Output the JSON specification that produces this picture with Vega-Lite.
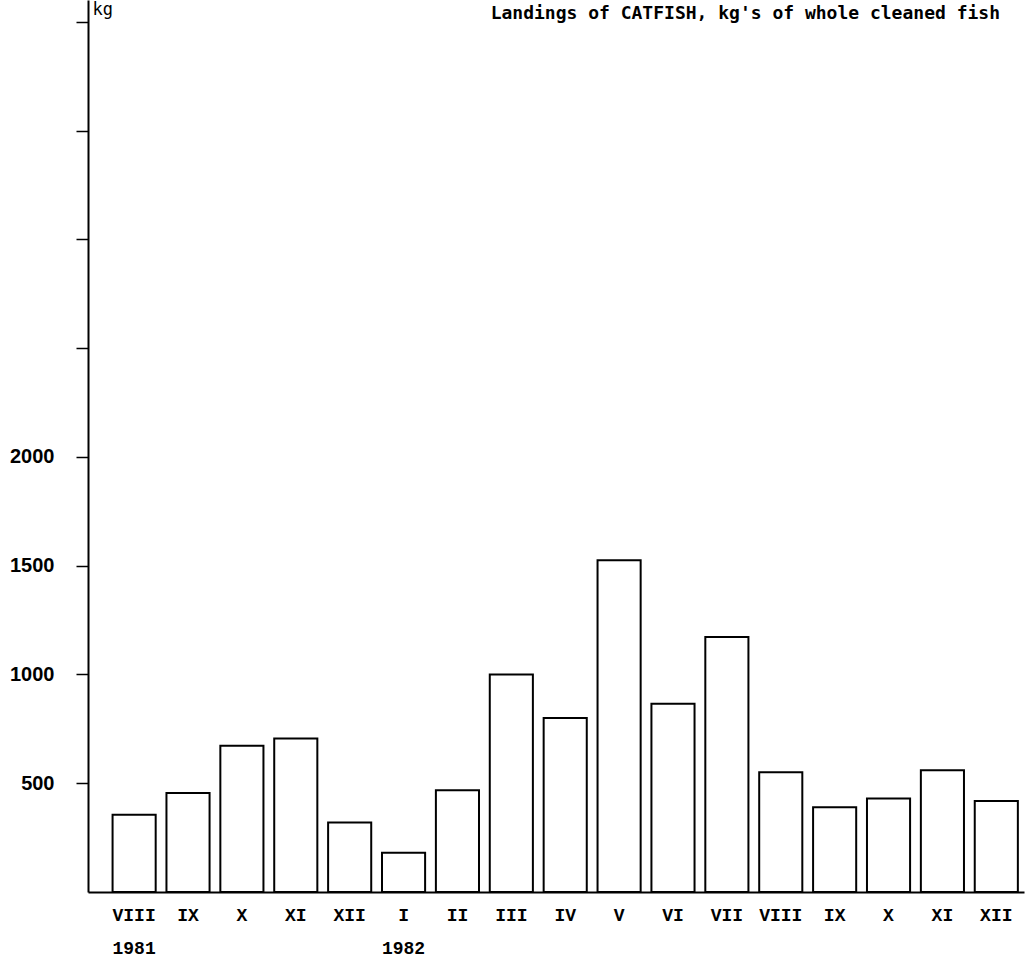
{
  "$schema": "https://vega.github.io/schema/vega-lite/v6.json",
  "autosize": {"type": "none"},
  "padding": {"left": 88, "top": 0, "right": 2, "bottom": 77},
  "width": 936,
  "height": 892,
  "background": "white",
  "title": {
    "text": "Landings of CATFISH, kg's of whole cleaned fish",
    "orient": "none",
    "anchor": "end",
    "align": "right",
    "dx": 912,
    "dy": 19,
    "baseline": "alphabetic",
    "font": "DejaVu Sans Mono",
    "fontSize": 18,
    "fontWeight": "bold",
    "color": "black"
  },
  "data": {
    "values": [
      {"month": "1981-VIII", "kg": 355},
      {"month": "1981-IX", "kg": 455},
      {"month": "1981-X", "kg": 672},
      {"month": "1981-XI", "kg": 705},
      {"month": "1981-XII", "kg": 320},
      {"month": "1982-I", "kg": 180},
      {"month": "1982-II", "kg": 468},
      {"month": "1982-III", "kg": 1000},
      {"month": "1982-IV", "kg": 800},
      {"month": "1982-V", "kg": 1525},
      {"month": "1982-VI", "kg": 865},
      {"month": "1982-VII", "kg": 1172},
      {"month": "1982-VIII", "kg": 550},
      {"month": "1982-IX", "kg": 390},
      {"month": "1982-X", "kg": 430},
      {"month": "1982-XI", "kg": 560},
      {"month": "1982-XII", "kg": 418}
    ]
  },
  "mark": {"type": "bar", "fill": "white", "stroke": "black", "strokeWidth": 2},
  "encoding": {
    "x": {
      "field": "month",
      "type": "nominal",
      "sort": null,
      "scale": {"paddingInner": 0.2, "paddingOuter": 0.285, "align": 0.8},
      "axis": {
        "title": null,
        "ticks": false,
        "grid": false,
        "domain": true,
        "domainColor": "black",
        "domainWidth": 2,
        "labelAngle": 0,
        "labelPadding": 14,
        "labelFont": "Liberation Mono",
        "labelFontWeight": "bold",
        "labelFontSize": 18,
        "labelColor": "black",
        "labelLineHeight": 33,
        "labelExpr": "datum.value == '1981-VIII' ? ['VIII', '1981'] : datum.value == '1982-I' ? ['I', '1982'] : slice(datum.value, 5)"
      }
    },
    "y": {
      "field": "kg",
      "type": "quantitative",
      "scale": {"domain": [0, 4100], "nice": false},
      "axis": {
        "title": "kg",
        "titleAngle": 0,
        "titleX": 4,
        "titleY": 14,
        "titleAlign": "left",
        "titleBaseline": "alphabetic",
        "titleFont": "DejaVu Sans Mono",
        "titleFontSize": 17,
        "titleFontWeight": "normal",
        "titleColor": "black",
        "values": [500, 1000, 1500, 2000, 2500, 3000, 3500, 4000],
        "labelExpr": "datum.value <= 2000 ? datum.label : ''",
        "format": "d",
        "grid": false,
        "domainColor": "black",
        "domainWidth": 2,
        "tickColor": "black",
        "tickSize": 12,
        "tickWidth": 1.5,
        "labelPadding": 22,
        "labelFont": "Liberation Sans",
        "labelFontWeight": "bold",
        "labelFontSize": 20,
        "labelColor": "black"
      }
    }
  },
  "config": {"view": {"stroke": null}}
}
